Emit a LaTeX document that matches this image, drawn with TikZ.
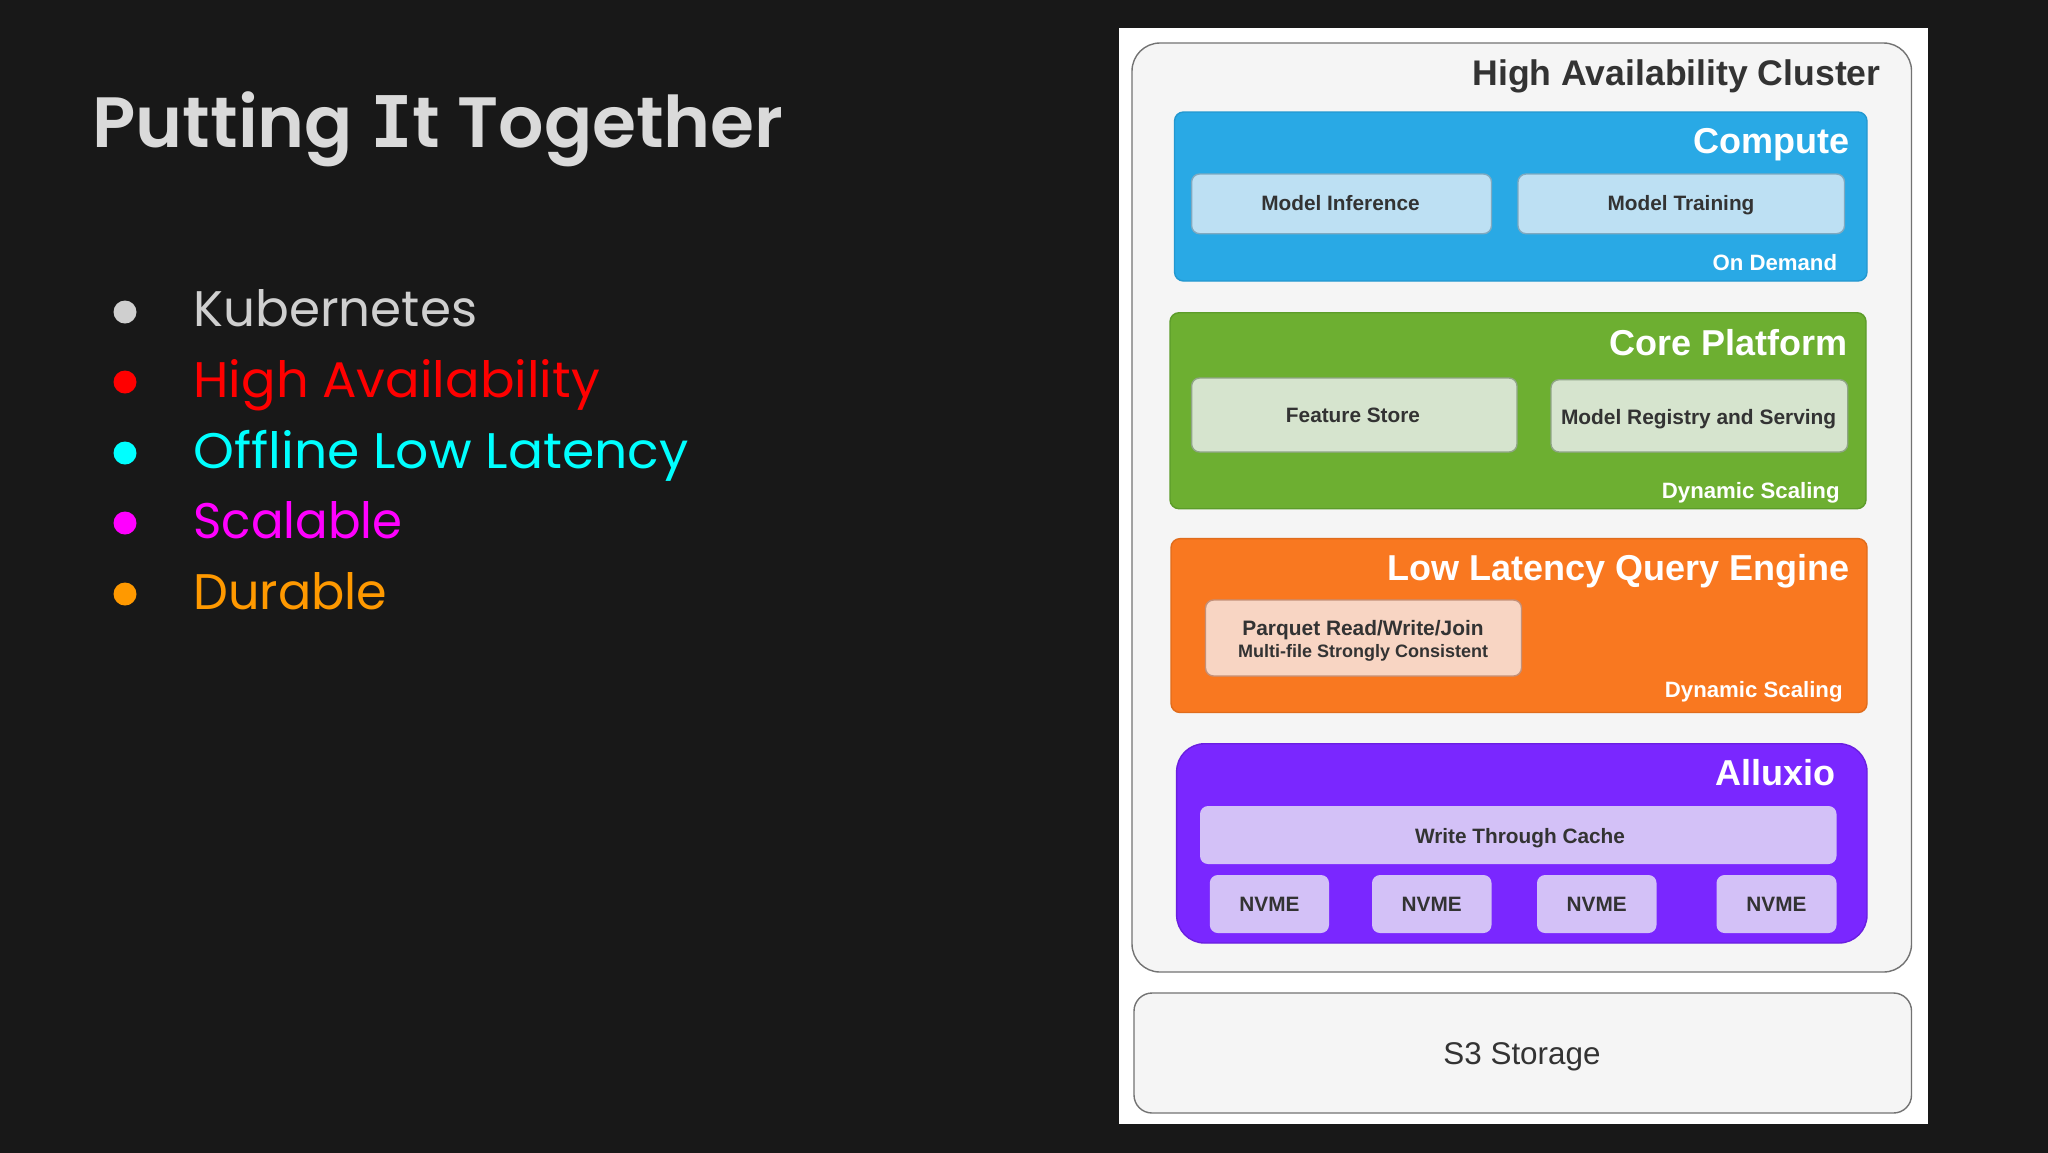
\documentclass[tikz,border=0pt]{standalone}
\usepackage{fontspec}
\setmainfont{Liberation Sans}
\newfontfamily\slidefont{Poppins}
\newfontfamily\slidehead{Poppins SemiBold}
\newfontfamily\monoI{DejaVu Sans Mono}
\definecolor{bgdark}{HTML}{181818}
\definecolor{slidegray}{HTML}{DADADA}
\definecolor{listgray}{HTML}{CFCFCF}
\definecolor{listred}{HTML}{FF0000}
\definecolor{listcyan}{HTML}{00FFFF}
\definecolor{listmag}{HTML}{FF00FF}
\definecolor{listorange}{HTML}{FF9900}
\definecolor{inkdark}{HTML}{333333}
\definecolor{clusterfill}{HTML}{F5F5F5}
\definecolor{blueF}{HTML}{29A9E5}\definecolor{blueD}{HTML}{2398D0}\definecolor{blueL}{HTML}{BDE0F3}\definecolor{blueE}{HTML}{7FA9C0}
\definecolor{greenF}{HTML}{6DAF31}\definecolor{greenD}{HTML}{5C9C2A}\definecolor{greenL}{HTML}{D6E4CE}\definecolor{greenE}{HTML}{8FA585}
\definecolor{orangeF}{HTML}{F97820}\definecolor{orangeD}{HTML}{E06C1C}\definecolor{orangeL}{HTML}{F8D5C3}\definecolor{orangeE}{HTML}{C49078}
\definecolor{purpleF}{HTML}{7A27FF}\definecolor{purpleD}{HTML}{6A1FE0}\definecolor{purpleL}{HTML}{D3C1F7}
\newcommand{\Bx}[6]{\node[#6,minimum width={((#4)-(#2))*0.5pt},minimum height={((#5)-(#3))*0.5pt}] (#1) at ({((#2)+(#4))/2},{((#3)+(#5))/2}) {};}
\tikzset{
 boxbase/.style={rectangle,inner sep=0pt,outer sep=0pt,line width=0.7pt},
 outerbox/.style={boxbase,draw=black!55,fill=clusterfill,rounded corners=14pt},
 s3box/.style={boxbase,draw=black!55,fill=clusterfill,rounded corners=9pt},
 layer/.style={boxbase,rounded corners=4.5pt},
 inner/.style={boxbase,rounded corners=4pt},
 big/.style={anchor=base east,inner sep=0pt,text=white,font=\bfseries\fontsize{18}{20}\selectfont},
 note/.style={anchor=base east,inner sep=0pt,text=white,font=\bfseries\fontsize{11.1}{13}\selectfont},
 lab/.style={anchor=base,inner sep=0pt,text=inkdark,font=\bfseries\fontsize{10.4}{12}\selectfont},
 bullet/.style={circle,inner sep=0pt,minimum size=11.5pt},
 item/.style={anchor=base west,inner sep=0pt,font=\slidefont\fontsize{25}{30}\selectfont},
}
\begin{document}
\begin{tikzpicture}[x=0.5pt,y=-0.5pt]
\useasboundingbox (0,0) rectangle (2048,1152);
\fill[bgdark] (-10,-10) rectangle (2058,1162);
\node[anchor=base west,inner sep=0pt,text=slidegray,font=\slidehead\fontsize{35.6}{40}\selectfont] (title) at (92,147) {Putting {\monoI\bfseries I}t Together};
\foreach \n/\c/\t/\by/\ty/\sx in {a/listgray/Kubernetes/312/326/1,b/listred/High Availability/382/397/1.024,c/listcyan/Offline Low Latency/453/468/1.04,d/listmag/Scalable/523/538/0.965,e/listorange/Durable/594/609/0.985}{
  \node[bullet,fill=\c] (bul\n) at (125,\by) {};
  \node[item,text=\c] (it\n) at (193,\ty) {\scalebox{\sx}[1]{\t}};
}
\fill[white] (1119,28) rectangle (1928,1123.5);
\Bx{cluster}{1132}{43}{1911.5}{972}{outerbox}
\Bx{s3}{1134}{993}{1911.5}{1113}{s3box}
\node[big,text=inkdark,font=\bfseries\fontsize{17.8}{20}\selectfont] (clt) at (1881,85) {High Availability Cluster};
\node[anchor=base,inner sep=0pt,text=inkdark,font=\fontsize{15.7}{18}\selectfont] (s3t) at (1522,1064) {S3 Storage};
% Compute
\Bx{compute}{1174.5}{112}{1867}{281}{layer,fill=blueF,draw=blueD}
\Bx{inf}{1191.6}{174}{1491.5}{233.7}{inner,fill=blueL,draw=blueE}
\Bx{tra}{1518}{174}{1844.5}{233.7}{inner,fill=blueL,draw=blueE}
\node[big] (compt) at (1850,153.5) {Compute};
\node[lab] (inft) at (1340.5,210) {Model Inference};
\node[lab] (trat) at (1681,210) {Model Training};
\node[note] (compn) at (1837.5,270) {On Demand};
% Core
\Bx{core}{1170}{312.7}{1866}{508.7}{layer,fill=greenF,draw=greenD}
\Bx{fea}{1191.6}{378}{1517}{452}{inner,fill=greenL,draw=greenE}
\Bx{reg}{1551}{379.7}{1847.7}{452}{inner,fill=greenL,draw=greenE}
\node[big] (coret) at (1848,355) {Core Platform};
\node[lab] (feat) at (1353,422) {Feature Store};
\node[lab,font=\bfseries\fontsize{10.45}{12}\selectfont] (regt) at (1698.6,424) {Model Registry and Serving};
\node[note] (coren) at (1840,498) {Dynamic Scaling};
% Query engine
\Bx{eng}{1171}{538.6}{1867}{712.5}{layer,fill=orangeF,draw=orangeD}
\Bx{par}{1205.5}{600}{1521.5}{676}{inner,fill=orangeL,draw=orangeE}
\node[big] (engt) at (1850,580) {Low Latency Query Engine};
\node[lab,font=\bfseries\fontsize{10.45}{12}\selectfont] (part) at (1363,635) {Parquet Read/Write/Join};
\node[lab,font=\bfseries\fontsize{9}{11}\selectfont] (pars) at (1363,657) {Multi-file Strongly Consistent};
\node[note] (engn) at (1843,697.5) {Dynamic Scaling};
% Alluxio
\Bx{alx}{1176.6}{743.7}{1867}{943}{boxbase,rounded corners=14pt,fill=purpleF,draw=purpleD}
\Bx{wtc}{1200}{806}{1836.5}{864}{inner,fill=purpleL}
\node[big] (alxt) at (1836,785) {Alluxio};
\node[lab] (wtct) at (1520,843) {Write Through Cache};
\foreach \n/\l/\r in {1/1209.8/1329,2/1372/1491.5,3/1537/1656.5,4/1716.5/1836.5}{
  \Bx{nv\n}{\l}{875}{\r}{933}{inner,fill=purpleL}
  \node[lab] (nvt\n) at ({(\l+\r)/2},911) {NVME};
}
\end{tikzpicture}
\end{document}
